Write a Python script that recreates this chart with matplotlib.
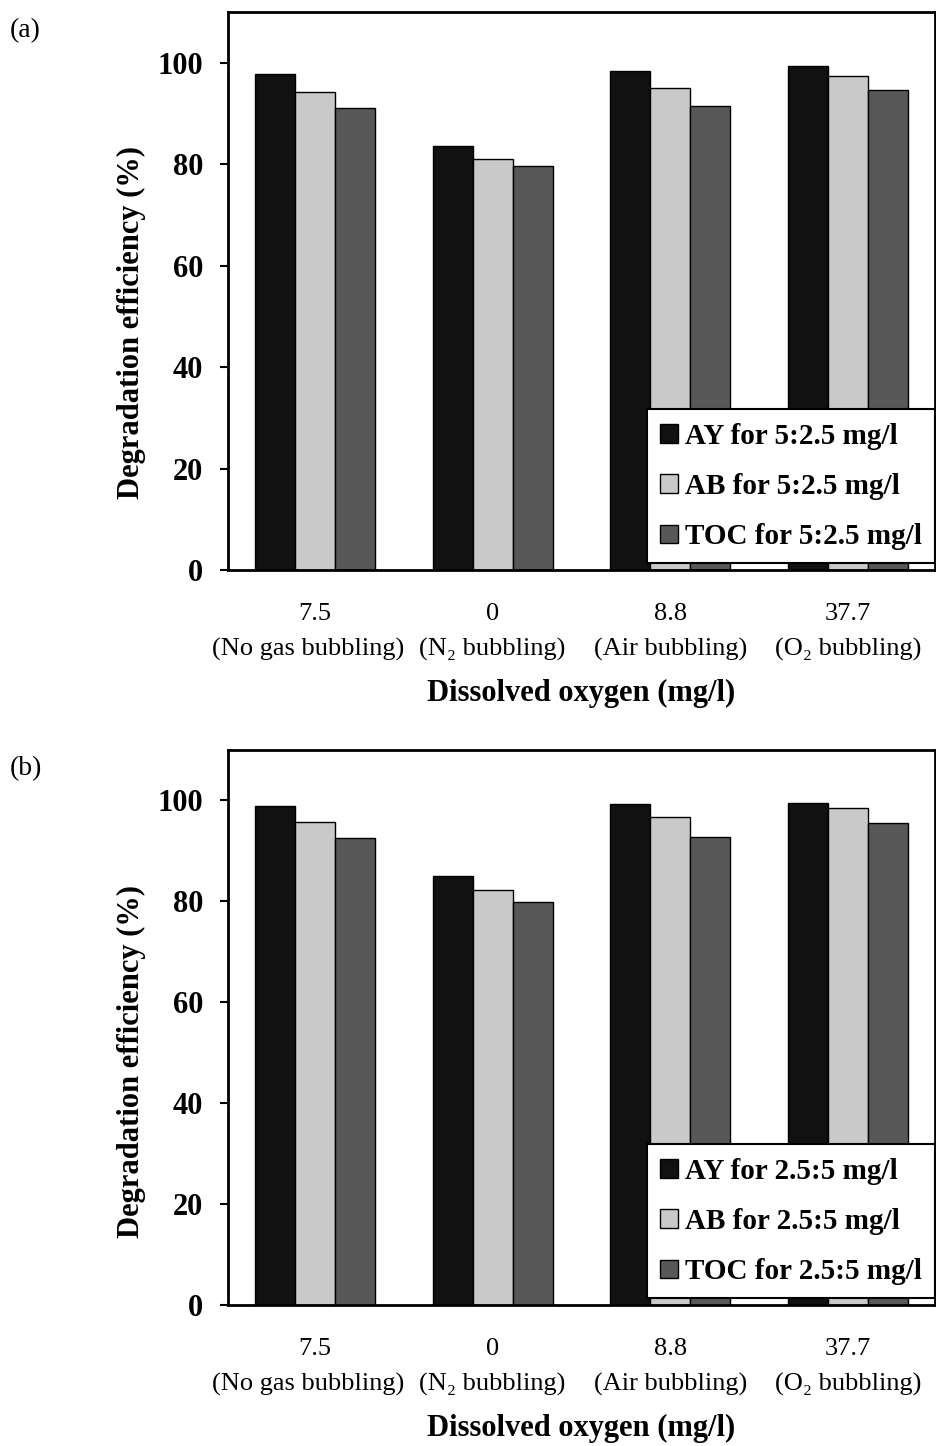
import numpy as np
import matplotlib.pyplot as plt

plt.rcParams['font.family'] = ['Liberation Serif', 'DejaVu Serif']

# dissolved oxygen conditions
do_values = ['7.5', '0', '8.8', '37.7']
# trailing spaces nudge the first long label left, as in the original
do_names = ['(No gas bubbling)  ', '(N\u2082 bubbling)', '(Air bubbling)', '(O\u2082 bubbling)']

# panel (a): 5:2.5 mg/l
ay_a = [97.7, 83.5, 98.3, 99.3]
ab_a = [94.3, 81.1, 95.1, 97.3]
toc_a = [91.0, 79.6, 91.5, 94.6]

# panel (b): 2.5:5 mg/l
ay_b = [99.0, 85.1, 99.3, 99.6]
ab_b = [95.8, 82.3, 96.7, 98.6]
toc_b = [92.6, 79.9, 92.8, 95.5]

colors = ['#111111', '#c9c9c9', '#585858']

fig = plt.figure(figsize=(9.36, 14.46), dpi=100)
ax_a = fig.add_axes([0.2436, 0.6058, 0.7553, 0.3859])
ax_b = fig.add_axes([0.2436, 0.0975, 0.7553, 0.3838])

def draw(ax, ay, ab, toc, ratio, tag, ylab_y, xlab_y):
    x = np.arange(len(do_values))
    w = 0.225
    series = [ay, ab, toc]
    names = ['AY', 'AB', 'TOC']
    for i in range(3):
        ax.bar(x + (i - 1) * w, series[i], w, color=colors[i], edgecolor='black',
               linewidth=1.0, label=names[i] + ' for ' + ratio + ' mg/l', zorder=2)
    ax.set_xlim(-0.49, 3.49)
    ax.set_ylim(0, 110)
    ax.set_yticks([0, 20, 40, 60, 80, 100])
    ax.set_xticks(x)
    ax.set_xticklabels([v + '\n' + n for v, n in zip(do_values, do_names)], fontsize=19,
                       linespacing=1.7)
    ax.tick_params(axis='x', length=0, pad=24)
    ax.tick_params(axis='y', length=6, width=1.5, labelsize=22, pad=12)
    for t in ax.get_yticklabels():
        t.set_fontweight('bold')
    for s in ax.spines.values():
        s.set_linewidth(2)
    ax.set_ylabel('Degradation efficiency (%)', fontsize=22, fontweight='bold')
    ax.yaxis.set_label_coords(-0.116, ylab_y)
    ax.set_xlabel('Dissolved oxygen (mg/l)', fontsize=22, fontweight='bold')
    ax.xaxis.set_label_coords(0.5, xlab_y)
    leg = ax.legend(loc='lower right', bbox_to_anchor=(1.0, 0.012),
                    prop={'weight': 'bold', 'size': 21}, frameon=True, fancybox=False,
                    framealpha=1, edgecolor='black', handlelength=0.6, handleheight=0.6,
                    handletextpad=0.25, labelspacing=0.8, borderpad=0.45, borderaxespad=0)
    leg.get_frame().set_linewidth(1.5)
    leg.set_zorder(5)
    fig.text(0.01, ax.get_position().y1 - 0.013, tag, fontsize=20, va='center', ha='left')

draw(ax_a, ay_a, ab_a, toc_a, '5:2.5', '(a)', 0.444, -0.195)
draw(ax_b, ay_b, ab_b, toc_b, '2.5:5', '(b)', 0.438, -0.196)

fig.savefig('out.png', dpi=100)
